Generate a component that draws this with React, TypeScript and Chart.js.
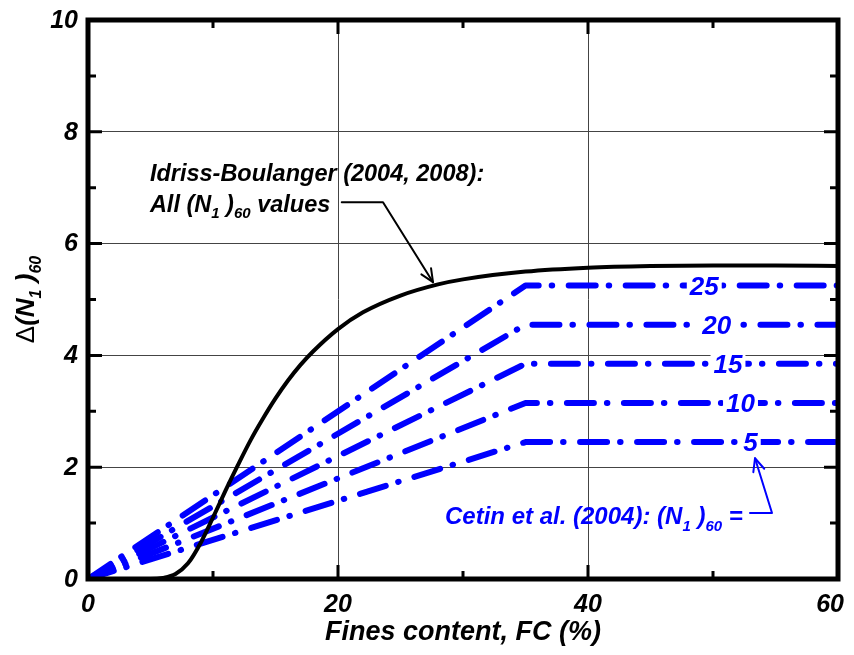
import React, { useEffect, useRef } from 'react';
import { Chart, registerables } from 'chart.js';

Chart.register(...registerables);

const FONT = '"Liberation Sans", Arial, Helvetica, sans-serif';
const BLUE = '#0000ff';

// Idriss-Boulanger (2004, 2008) curve
const ibFines = [0, 4, 5, 6, 7, 8, 9, 10, 11, 12, 13, 14, 15, 16, 17, 18, 20, 22, 25, 28, 30, 35, 40, 45, 50, 55, 60];
const ibDelta = [0, 0, 0, 0.02, 0.09, 0.28, 0.64, 1.1, 1.58, 2.04, 2.48, 2.87, 3.23, 3.55, 3.83, 4.07, 4.47, 4.77, 5.07, 5.27, 5.36, 5.5, 5.57, 5.6, 5.61, 5.61, 5.6];

// Cetin et al. (2004) lines for several (N1)60 values
const cetinN = [5, 10, 15, 20, 25];
const cetinFines = [0, 35, 60];
const cetinPlateau = [2.45, 3.15, 3.85, 4.55, 5.25];
const cetinLabelFC = [53.0, 52.2, 51.2, 50.3, 49.3];

// Axes
const xTicks = [0, 20, 40, 60];
const yTicks = [0, 2, 4, 6, 8, 10];
const xMinor = [10, 30, 50];
const yMinor = [1, 3, 5, 7, 9];

type Seg = { t: string; sub?: boolean; plain?: boolean };

function segFont(s: Seg, size: number) {
  if (s.sub) return `italic bold ${Math.round(size * 0.62)}px ${FONT}`;
  if (s.plain) return `${size}px ${FONT}`;
  return `italic bold ${size}px ${FONT}`;
}

function richWidth(ctx: CanvasRenderingContext2D, segs: Seg[], size: number) {
  let w = 0;
  for (const s of segs) {
    ctx.font = segFont(s, size);
    w += ctx.measureText(s.t).width;
  }
  return w;
}

function drawRich(ctx: CanvasRenderingContext2D, segs: Seg[], x: number, y: number, size: number, color: string) {
  ctx.fillStyle = color;
  ctx.textAlign = 'left';
  ctx.textBaseline = 'alphabetic';
  let cx = x;
  for (const s of segs) {
    ctx.font = segFont(s, size);
    ctx.fillText(s.t, cx, s.sub ? y + size * 0.28 : y);
    cx += ctx.measureText(s.t).width;
  }
  return cx;
}

function arrowHead(ctx: CanvasRenderingContext2D, fx: number, fy: number, tx: number, ty: number, len: number) {
  const a = Math.atan2(ty - fy, tx - fx);
  const sp = 0.42;
  ctx.beginPath();
  ctx.moveTo(tx - len * Math.cos(a - sp), ty - len * Math.sin(a - sp));
  ctx.lineTo(tx, ty);
  ctx.lineTo(tx - len * Math.cos(a + sp), ty - len * Math.sin(a + sp));
  ctx.stroke();
}

const ybTitle: Seg[] = [{ t: '\u0394', plain: true }, { t: '(N' }, { t: '1', sub: true }, { t: ' )' }, { t: '60', sub: true }];
const ibLine1: Seg[] = [{ t: 'Idriss-Boulanger (2004, 2008):' }];
const ibLine2: Seg[] = [{ t: 'All (N' }, { t: '1', sub: true }, { t: ' )' }, { t: '60', sub: true }, { t: ' values' }];
const cetinText: Seg[] = [{ t: 'Cetin et al. (2004): (N' }, { t: '1', sub: true }, { t: ' )' }, { t: '60', sub: true }, { t: ' =' }];

const framePlugin = {
  id: 'frame',
  afterDatasetsDraw(chart: any) {
    const ctx: CanvasRenderingContext2D = chart.ctx;
    const xs = chart.scales.x;
    const ys = chart.scales.y;
    ctx.save();
    ctx.font = `italic bold 26px ${FONT}`;
    ctx.textAlign = 'center';
    ctx.textBaseline = 'middle';
    cetinN.forEach((n, i) => {
      const px = xs.getPixelForValue(cetinLabelFC[i]);
      const py = ys.getPixelForValue(cetinPlateau[i]);
      const t = String(n);
      const w = ctx.measureText(t).width;
      ctx.fillStyle = '#ffffff';
      ctx.fillRect(px - w / 2 - 3, py - 12, w + 6, 24);
      ctx.fillStyle = BLUE;
      ctx.fillText(t, px, py + 2);
    });
    ctx.restore();
  },
  afterDraw(chart: any) {
    const ctx: CanvasRenderingContext2D = chart.ctx;
    const { left, right, top, bottom } = chart.chartArea;
    const xs = chart.scales.x;
    const ys = chart.scales.y;
    const W = chart.width;
    ctx.save();
    // frame
    ctx.strokeStyle = '#000';
    ctx.lineWidth = 5;
    ctx.lineJoin = 'miter';
    ctx.strokeRect(left, top, right - left, bottom - top);
    // ticks
    ctx.lineWidth = 3;
    ctx.lineCap = 'butt';
    const hTick = (v: number, len: number) => {
      const py = ys.getPixelForValue(v);
      ctx.beginPath();
      ctx.moveTo(left, py);
      ctx.lineTo(left + len, py);
      ctx.moveTo(right, py);
      ctx.lineTo(right - len, py);
      ctx.stroke();
    };
    const vTick = (v: number, len: number) => {
      const px = xs.getPixelForValue(v);
      ctx.beginPath();
      ctx.moveTo(px, bottom);
      ctx.lineTo(px, bottom - len);
      ctx.moveTo(px, top);
      ctx.lineTo(px, top + len);
      ctx.stroke();
    };
    yTicks.slice(1, -1).forEach((v) => hTick(v, 14));
    yMinor.forEach((v) => hTick(v, 8));
    xTicks.slice(1, -1).forEach((v) => vTick(v, 14));
    xMinor.forEach((v) => vTick(v, 8));

    // tick labels
    ctx.fillStyle = '#000';
    ctx.font = `italic bold 25px ${FONT}`;
    ctx.textAlign = 'right';
    ctx.textBaseline = 'middle';
    yTicks.forEach((v) => ctx.fillText(String(v), left - 10, ys.getPixelForValue(v) + 1));
    ctx.textAlign = 'center';
    ctx.textBaseline = 'alphabetic';
    xTicks.forEach((v) => {
      const t = String(v);
      const w = ctx.measureText(t).width;
      const px = Math.min(xs.getPixelForValue(v), W - w / 2 - 2);
      ctx.fillText(t, px, bottom + 33);
    });

    // x title
    ctx.font = `italic bold 27px ${FONT}`;
    ctx.fillText('Fines content, FC (%)', (left + right) / 2, bottom + 61);

    // y title
    ctx.save();
    ctx.translate(left - 54, (top + bottom) / 2);
    ctx.rotate(-Math.PI / 2);
    const yw = richWidth(ctx, ybTitle, 26);
    drawRich(ctx, ybTitle, -yw / 2, 0, 26, '#000');
    ctx.restore();

    // Idriss-Boulanger annotation
    drawRich(ctx, ibLine1, xs.getPixelForValue(4.95), ys.getPixelForValue(7.12), 23.5, '#000');
    drawRich(ctx, ibLine2, xs.getPixelForValue(4.95), ys.getPixelForValue(6.57), 23.5, '#000');
    ctx.strokeStyle = '#000';
    ctx.lineWidth = 2;
    ctx.lineCap = 'round';
    ctx.lineJoin = 'round';
    const a0 = [xs.getPixelForValue(20.3), ys.getPixelForValue(6.74)];
    const a1 = [xs.getPixelForValue(23.6), ys.getPixelForValue(6.74)];
    const a2 = [xs.getPixelForValue(27.6), ys.getPixelForValue(5.31)];
    ctx.beginPath();
    ctx.moveTo(a0[0], a0[1]);
    ctx.lineTo(a1[0], a1[1]);
    ctx.lineTo(a2[0], a2[1]);
    ctx.stroke();
    arrowHead(ctx, a1[0], a1[1], a2[0], a2[1], 14);

    // Cetin annotation
    drawRich(ctx, cetinText, xs.getPixelForValue(28.56), ys.getPixelForValue(0.98), 24, BLUE);
    ctx.strokeStyle = BLUE;
    const c0 = [xs.getPixelForValue(52.96), ys.getPixelForValue(1.18)];
    const c1 = [xs.getPixelForValue(54.72), ys.getPixelForValue(1.18)];
    const c2 = [xs.getPixelForValue(53.36), ys.getPixelForValue(2.16)];
    ctx.beginPath();
    ctx.moveTo(c0[0], c0[1]);
    ctx.lineTo(c1[0], c1[1]);
    ctx.lineTo(c2[0], c2[1]);
    ctx.stroke();
    arrowHead(ctx, c1[0], c1[1], c2[0], c2[1], 14);
    ctx.restore();
  },
};

export default function App() {
  const ref = useRef<HTMLCanvasElement | null>(null);
  useEffect(() => {
    if (!ref.current) return;
    const datasets: any[] = [
      {
        label: 'Idriss-Boulanger',
        data: ibFines.map((x, i) => ({ x, y: ibDelta[i] })),
        borderColor: '#000',
        borderWidth: 4,
        pointRadius: 0,
        cubicInterpolationMode: 'monotone',
        fill: false,
      },
      ...cetinN.map((n, i) => ({
        label: `Cetin ${n}`,
        data: cetinFines.map((x, j) => ({ x, y: j === 0 ? 0 : cetinPlateau[i] })),
        borderColor: BLUE,
        borderWidth: 6,
        borderDash: [27, 13, 0.5, 16.5],
        borderCapStyle: 'round',
        borderJoinStyle: 'round',
        pointRadius: 0,
        tension: 0,
        fill: false,
      })),
    ];
    const chart = new Chart(ref.current, {
      type: 'line',
      data: { datasets },
      options: {
        responsive: false,
        animation: false,
        events: [],
        layout: { padding: { left: 80, right: 8, top: 12, bottom: 68 } },
        plugins: { legend: { display: false }, tooltip: { enabled: false } },
        scales: {
          x: {
            type: 'linear',
            min: 0,
            max: 60,
            ticks: { display: false, stepSize: 20 },
            grid: { color: '#444', lineWidth: 1, drawTicks: false },
            border: { display: false },
            afterFit: (s: any) => { s.height = 0; },
          },
          y: {
            type: 'linear',
            min: 0,
            max: 10,
            ticks: { display: false, stepSize: 2 },
            grid: { color: '#444', lineWidth: 1, drawTicks: false },
            border: { display: false },
            afterFit: (s: any) => { s.width = 0; },
          },
        },
      } as any,
      plugins: [framePlugin],
    });
    return () => chart.destroy();
  }, []);
  return <canvas ref={ref} width={838} height={639} style={{ display: 'block' }} />;
}
